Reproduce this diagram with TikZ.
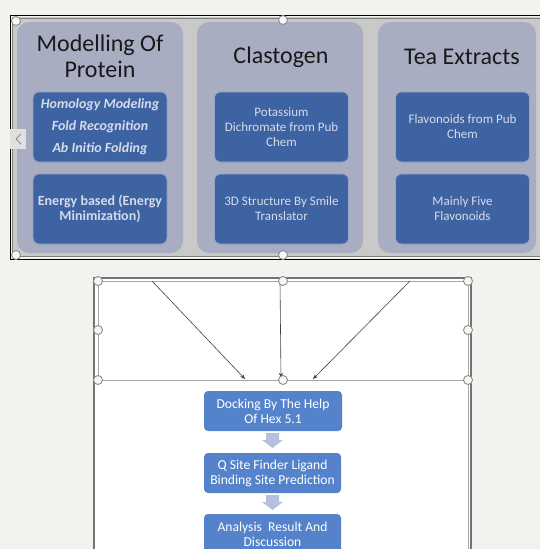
\documentclass[tikz,border=0pt]{standalone}
\usepackage{fontspec}
\setmainfont{Carlito}
\usetikzlibrary{arrows.meta}
\definecolor{bg}{RGB}{242,242,238}
\definecolor{framefill}{RGB}{201,201,201}
\definecolor{frameln}{RGB}{128,128,128}
\definecolor{panelc}{RGB}{169,173,194}
\definecolor{innerc}{RGB}{62,99,163}
\definecolor{innerln}{RGB}{150,163,200}
\definecolor{innertx}{RGB}{214,219,232}
\definecolor{flowc}{RGB}{84,130,203}
\definecolor{blkc}{RGB}{180,192,222}
\definecolor{hdlln}{RGB}{140,140,140}
\tikzset{
  panelbox/.style={fill=panelc, draw=none, rounded corners=12pt, minimum width=166pt, minimum height=231pt, inner sep=0pt},
  titletx/.style={font=\fontsize{24}{26}\selectfont, text=black!90, align=center, inner sep=0pt},
  innerbox/.style={fill=innerc, draw=innerln, line width=0.8pt, rounded corners=6pt, minimum width=134pt, minimum height=70pt, inner sep=0pt, text=innertx, align=center, font=\fontsize{13}{15}\selectfont},
  flowbox/.style={fill=flowc, draw=none, rounded corners=4pt, minimum width=137pt, minimum height=40pt, inner sep=0pt, text=white, align=center, font=\fontsize{13.6}{15}\selectfont},
  handle/.style={circle, fill=bg!60!white, draw=hdlln, line width=0.9pt, minimum size=9pt, inner sep=0pt},
  conn/.style={draw=black!75, line width=0.6pt, -{Stealth[length=5pt,width=4pt]}},
  blockarrow/.style={fill=blkc, draw=none}
}
\begin{document}
\begin{tikzpicture}[x=1pt,y=-1pt]
\useasboundingbox (0,0) rectangle (540,549);
\fill[bg] (0,0) rectangle (540,549);
% top frame
\fill[framefill] (12,17) rectangle (541,257);
\draw[frameln, line width=1pt] (541,18) -- (12,18) -- (12,256) -- (541,256);
\draw[black, line width=1pt] (541,15) -- (10,15) -- (10,259) -- (541,259);
% panels
\node[panelbox] (p1) at (100,137.5) {};
\node[panelbox] (p2) at (280,137.5) {};
\node[panelbox, minimum width=158pt] (p3) at (457,137.5) {};
% titles
\node[titletx] (t1) at (100,56) {Modelling Of\\Protein};
\node[titletx] (t2) at (281,57) {Clastogen};
\node[titletx] (t3) at (462,57) {Tea Extracts};
% inner boxes
\node[innerbox, font=\fontsize{14}{22}\selectfont\bfseries\itshape] (b11) at (100,127) {Homology Modeling\\Fold Recognition\\Ab Initio Folding};
\node[innerbox, font=\fontsize{14}{15.5}\selectfont\bfseries] (b12) at (100,209) {Energy based (Energy\\Minimization)};
\node[innerbox] (b21) at (281.5,127) {Potassium\\Dichromate from Pub\\Chem};
\node[innerbox] (b22) at (281.5,209) {3D Structure By Smile\\Translator};
\node[innerbox] (b31) at (462.5,127) {Flavonoids from Pub\\Chem};
\node[innerbox] (b32) at (462.5,209) {Mainly Five\\Flavonoids};
% left tab
\fill[black!12] (10,129) rectangle (26,149);
\draw[black!45, line width=1pt] (21,134) -- (16,139) -- (21,144);
% top frame handles
\node[handle] (h1) at (16,21) {};
\node[handle] (h2) at (283,20) {};
\node[handle] (h3) at (283,255) {};
\node[handle] (h4) at (16,255) {};
% lower box
\fill[white] (94,278) rectangle (471,560);
\draw[black!55, line width=1.2pt] (94,560) -- (94,278) -- (471,278) -- (471,560);
\draw[black!35, line width=0.8pt] (98,281) rectangle (468,380);
\draw[black!35, line width=0.8pt] (468,380) -- (468,560);
% connectors
\coordinate (s1) at (152,281);
\coordinate (s2) at (280,281);
\coordinate (s3) at (410,281);
\coordinate (e1) at (245,379);
\coordinate (e2) at (281,378);
\coordinate (e3) at (313,379);
\draw[conn] (s1) -- (e1);
\draw[conn] (s2) -- (e2);
\draw[conn] (s3) -- (e3);
% lower handles
\node[handle] (g1) at (98,281) {};
\node[handle] (g2) at (283,281) {};
\node[handle] (g3) at (468,281) {};
\node[handle] (g4) at (98,330) {};
\node[handle] (g5) at (468,330) {};
\node[handle] (g6) at (98,380) {};
\node[handle] (g7) at (283,380) {};
\node[handle] (g8) at (468,380) {};
% flow boxes
\node[flowbox, minimum width=138pt] (f1) at (273,411) {Docking By The Help\\Of Hex 5.1};
\node[flowbox] (f2) at (272.5,473) {Q Site Finder Ligand\\Binding Site Prediction};
\node[flowbox] (f3) at (272.5,534) {Analysis~~Result And\\Discussion};
% block arrows
\fill[blockarrow] (266,433) -- (279,433) -- (279,440) -- (283,440) -- (272.5,448) -- (262,440) -- (266,440) -- cycle;
\fill[blockarrow] (266,495) -- (279,495) -- (279,502) -- (283,502) -- (272.5,510) -- (262,502) -- (266,502) -- cycle;
\end{tikzpicture}
\end{document}
